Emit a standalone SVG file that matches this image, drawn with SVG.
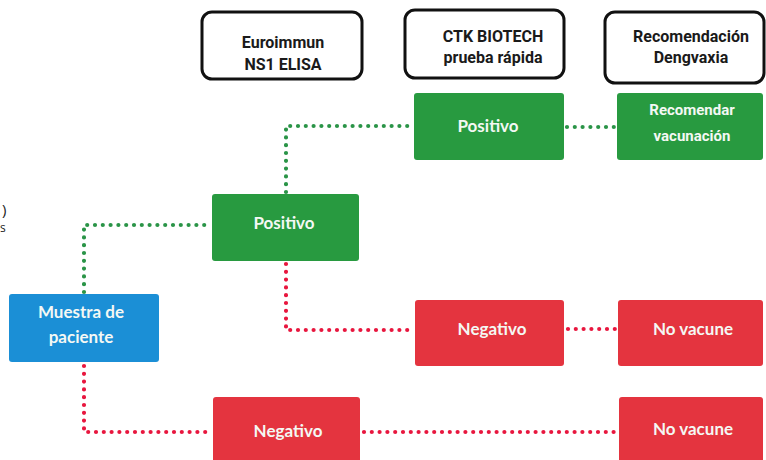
<svg xmlns="http://www.w3.org/2000/svg" width="766" height="460" viewBox="0 0 766 460">
<style>
.hdr{fill:#fff;stroke:#111;stroke-width:3}
.ht{font-family:Roboto,"Liberation Sans",sans-serif;font-weight:700;font-size:16px;fill:#1a1a1a;text-anchor:middle}
.g{fill:#289a40}
.r{fill:#e4343f}
.b{fill:#1b8fd6}
.bt{font-family:Lato,"Open Sans",sans-serif;font-weight:700;font-size:17px;fill:#f4f8f4;text-anchor:middle}
.rt{font-family:Roboto,"Liberation Sans",sans-serif;font-weight:700;font-size:15px;fill:#f4f8f4;text-anchor:middle}
.cg{fill:none;stroke:#2a9447;stroke-width:4.2;stroke-linecap:round;stroke-dasharray:0 7.8}
.cr{fill:none;stroke:#e8163e;stroke-width:4.2;stroke-linecap:round;stroke-dasharray:0 7.8}
.side{font-family:"Open Sans","Liberation Sans",sans-serif;fill:#222}
</style>
<rect width="766" height="460" fill="#fff"/>
<text class="side" x="2" y="215" font-size="15">)</text>
<text class="side" x="0" y="232" font-size="12">s</text>
<g id="connectors">
<path class="cg" d="M84 292 V225 H210"/>
<path class="cg" d="M286 192 V126 H413"/>
<path class="cg" d="M567 127 H616"/>
<path class="cr" d="M286 264 V330 H413"/>
<path class="cr" d="M568 329 H616"/>
<path class="cr" d="M84 366 V432 H211"/>
<path class="cr" d="M364 432 H617"/>
</g>
<g id="h-euroimmun"><rect class="hdr" x="202" y="12" width="160" height="67" rx="10"/><text class="ht" x="283" y="48">Euroimmun</text><text class="ht" x="283" y="70">NS1 ELISA</text></g>
<g id="h-ctk"><rect class="hdr" x="405" y="10" width="159" height="68" rx="10"/><text class="ht" x="493" y="42">CTK BIOTECH</text><text class="ht" x="493" y="63">prueba rápida</text></g>
<g id="h-reco"><rect class="hdr" x="605" y="12" width="159" height="71" rx="10"/><text class="ht" x="691" y="42">Recomendación</text><text class="ht" x="691" y="63">Dengvaxia</text></g>
<g id="muestra"><rect class="b" x="9" y="294" width="150" height="68" rx="3"/><text class="bt" x="81" y="318">Muestra de</text><text class="bt" x="81" y="343">paciente</text></g>
<g id="pos1"><rect class="g" x="212" y="194" width="147" height="67" rx="3"/><text class="bt" x="284" y="229">Positivo</text></g>
<g id="neg1"><rect class="r" x="213" y="397" width="147" height="70" rx="3"/><text class="bt" x="288" y="437">Negativo</text></g>
<g id="pos2"><rect class="g" x="414" y="93" width="150" height="67" rx="3"/><text class="bt" x="488" y="132">Positivo</text></g>
<g id="neg2"><rect class="r" x="415" y="300" width="149" height="66" rx="3"/><text class="bt" x="492" y="335">Negativo</text></g>
<g id="recomendar"><rect class="g" x="617" y="93" width="146" height="67" rx="3"/><text class="rt" x="692" y="115">Recomendar</text><text class="rt" x="692" y="141">vacunación</text></g>
<g id="novac1"><rect class="r" x="618" y="300" width="145" height="66" rx="3"/><text class="bt" x="693" y="335">No vacune</text></g>
<g id="novac2"><rect class="r" x="619" y="397" width="144" height="70" rx="3"/><text class="bt" x="693" y="435">No vacune</text></g>
</svg>
